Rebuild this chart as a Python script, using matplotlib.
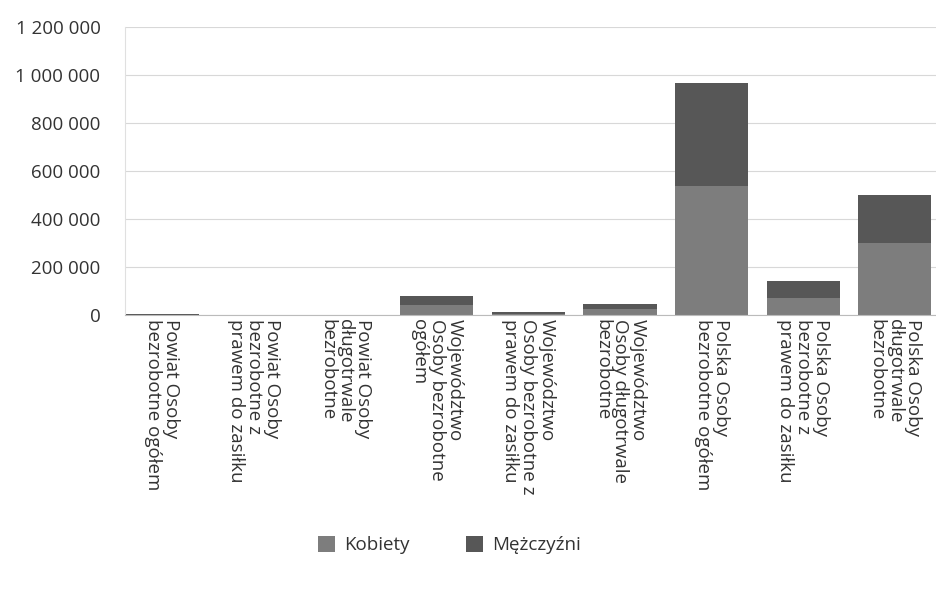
import matplotlib.pyplot as plt
from matplotlib.ticker import FuncFormatter
import numpy as np

plt.rcParams['font.family'] = ['Open Sans', 'DejaVu Sans']

categories = [
    "Powiat Osoby\nbezrobotne ogółem",
    "Powiat Osoby\nbezrobotne z\nprawem do zasiłku",
    "Powiat Osoby\ndługotrwale\nbezrobotne",
    "Województwo\nOsoby bezrobotne\nogółem",
    "Województwo\nOsoby bezrobotne z\nprawem do zasiłku",
    "Województwo\nOsoby długotrwale\nbezrobotne",
    "Polska Osoby\nbezrobotne ogółem",
    "Polska Osoby\nbezrobotne z\nprawem do zasiłku",
    "Polska Osoby\ndługotrwale\nbezrobotne",
]
kobiety = [1500, 300, 900, 40000, 5500, 25000, 535000, 72000, 300000]
mezczyzni = [1200, 300, 700, 40000, 5500, 20000, 430000, 70000, 200000]

fig = plt.figure(figsize=(9.36, 5.89), dpi=100)
ax = fig.add_axes([0.134, 0.465, 0.866, 0.49])

x = np.arange(len(categories))
ax.bar(x, kobiety, width=0.8, color='#7d7d7d', label='Kobiety', zorder=2)
ax.bar(x, mezczyzni, width=0.8, bottom=kobiety, color='#575757', label='Mężczyźni', zorder=2)

ax.set_xlim(-0.4, len(categories) - 0.55)
ax.set_ylim(0, 1200000)
ax.set_yticks(np.arange(0, 1200001, 200000))
ax.yaxis.set_major_formatter(FuncFormatter(lambda v, p: f"{int(v):,}".replace(",", " ")))
ax.grid(axis='y', color='#d8d8d8', linewidth=0.8, zorder=0)
ax.set_xticks(x)
ax.set_xticklabels(categories, rotation=270, ha='center', va='top',
                   multialignment='left', fontsize=13.5, linespacing=1.0,
                   color='#333333')
ax.tick_params(axis='y', labelsize=13.5, labelcolor='#333333', length=0, pad=18)
ax.tick_params(axis='x', length=0, pad=3)
for s in ['top', 'right']:
    ax.spines[s].set_visible(False)
ax.spines['left'].set_color('#e0e0e0')
ax.spines['bottom'].set_color('#bbbbbb')

fig.legend(loc='lower center', bbox_to_anchor=(0.48, 0.03), ncol=2, frameon=False,
           fontsize=13.5, handlelength=0.9, handleheight=0.9, columnspacing=3,
           handletextpad=0.5, labelcolor='#333333')

fig.savefig('out.png', dpi=100)
